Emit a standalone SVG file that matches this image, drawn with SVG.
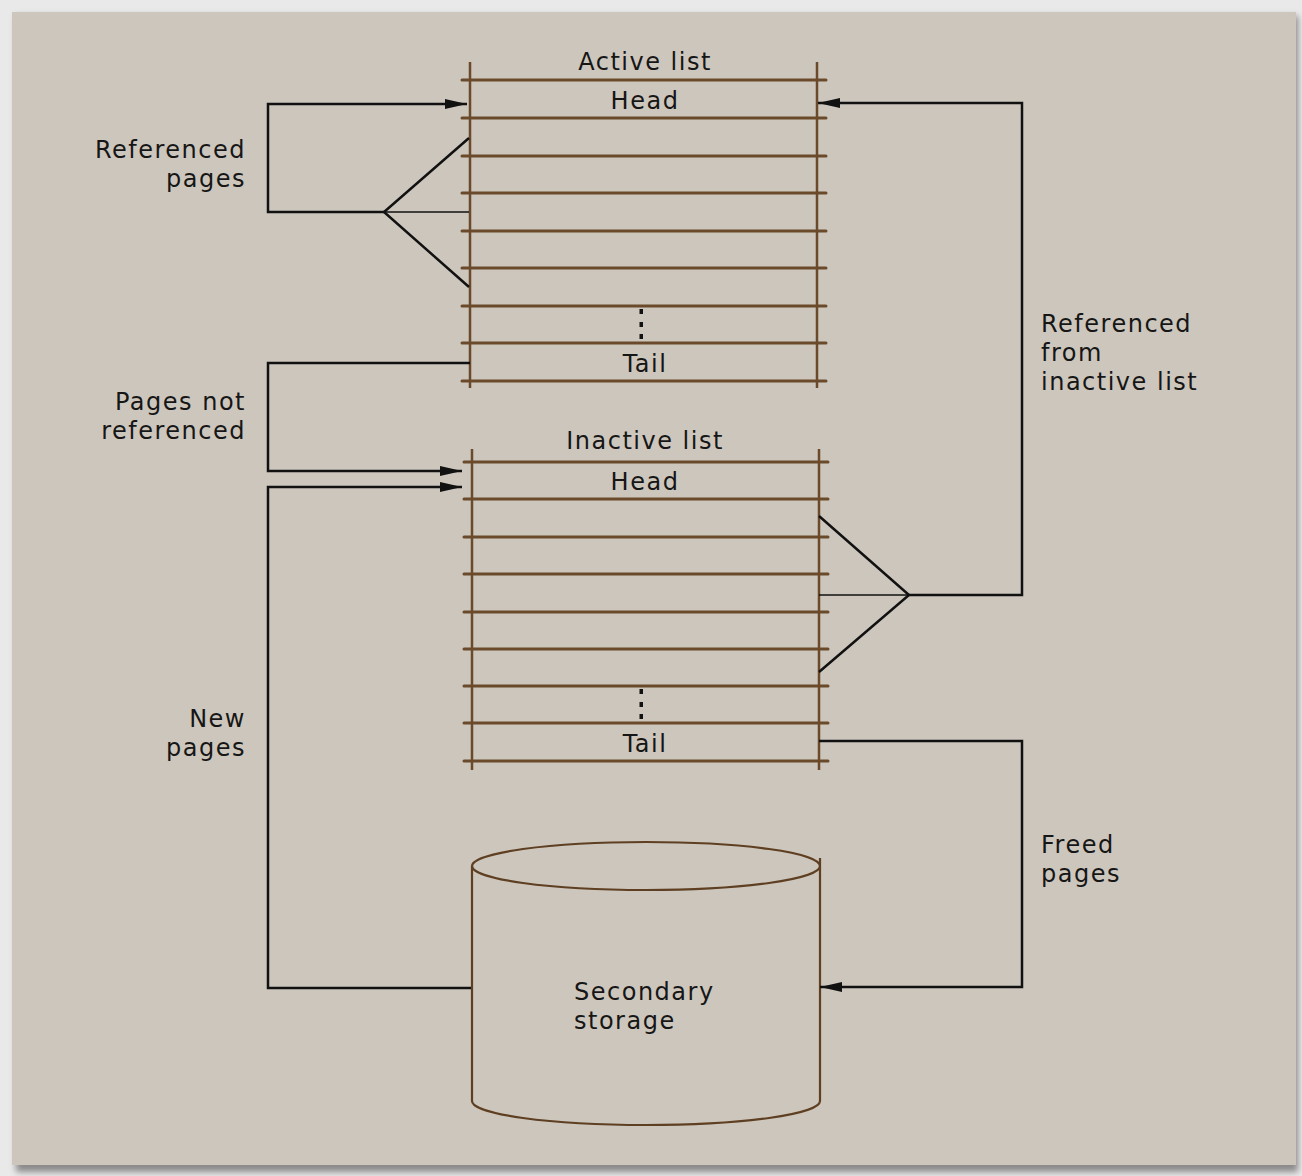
<svg xmlns="http://www.w3.org/2000/svg" width="1302" height="1176" viewBox="0 0 1302 1176">
<defs>
<style>
.t{font-family:"DejaVu Sans","Open Sans","Liberation Sans",sans-serif;font-size:24px;fill:#161616;letter-spacing:1.5px}
.m{text-anchor:middle}
.e{text-anchor:end}
.br{stroke:#6a4a2b;stroke-width:3;fill:none;stroke-linecap:round}
.bv{stroke:#6a4a2b;stroke-width:2.5;fill:none}
.cy{stroke:#5e3f22;stroke-width:2.2;fill:none}
.c{stroke:#111;stroke-width:2.5;fill:none}
.ct{stroke:#111;stroke-width:1.5;fill:none}
</style>
<marker id="ah" viewBox="0 0 22 12" refX="22" refY="6" markerWidth="22" markerHeight="12" markerUnits="userSpaceOnUse" orient="auto">
<path d="M0,1 L22,6 L0,11 Z" fill="#111"/>
</marker>
<filter id="sh" x="-5%" y="-5%" width="110%" height="110%">
<feGaussianBlur stdDeviation="3"/>
</filter>
</defs>
<rect x="0" y="0" width="1302" height="1176" fill="#e9e9e9"/>
<rect x="16" y="16" width="1282" height="1156" fill="#8a8a8a" filter="url(#sh)"/>
<rect x="12" y="12" width="1284" height="1153" fill="#cdc6bc"/>

<g id="active-list">
<line class="bv" x1="470" y1="62" x2="470" y2="388"/>
<line class="bv" x1="817" y1="62" x2="817" y2="388"/>
<line class="br" x1="462" y1="80" x2="826" y2="80"/>
<line class="br" x1="462" y1="118" x2="826" y2="118"/>
<line class="br" x1="462" y1="156" x2="826" y2="156"/>
<line class="br" x1="462" y1="193" x2="826" y2="193"/>
<line class="br" x1="462" y1="231" x2="826" y2="231"/>
<line class="br" x1="462" y1="268" x2="826" y2="268"/>
<line class="br" x1="462" y1="306" x2="826" y2="306"/>
<line class="br" x1="462" y1="343" x2="826" y2="343"/>
<line class="br" x1="462" y1="381" x2="826" y2="381"/>
<text class="t m" x="645" y="70">Active list</text>
<text class="t m" x="645" y="109">Head</text>
<text class="t m" x="645" y="372">Tail</text>
<rect x="639.5" y="309" width="3.5" height="5" fill="#111"/>
<rect x="639.5" y="322" width="3.5" height="5" fill="#111"/>
<rect x="639.5" y="334" width="3.5" height="5" fill="#111"/>
</g>

<g id="inactive-list">
<line class="bv" x1="472" y1="449" x2="472" y2="770"/>
<line class="bv" x1="819" y1="449" x2="819" y2="770"/>
<line class="br" x1="464" y1="462" x2="828" y2="462"/>
<line class="br" x1="464" y1="499" x2="828" y2="499"/>
<line class="br" x1="464" y1="537" x2="828" y2="537"/>
<line class="br" x1="464" y1="574" x2="828" y2="574"/>
<line class="br" x1="464" y1="612" x2="828" y2="612"/>
<line class="br" x1="464" y1="649" x2="828" y2="649"/>
<line class="br" x1="464" y1="686" x2="828" y2="686"/>
<line class="br" x1="464" y1="723" x2="828" y2="723"/>
<line class="br" x1="464" y1="761" x2="828" y2="761"/>
<text class="t m" x="645" y="449">Inactive list</text>
<text class="t m" x="645" y="490">Head</text>
<text class="t m" x="645" y="752">Tail</text>
<rect x="639.5" y="689" width="3.5" height="5" fill="#111"/>
<rect x="639.5" y="702" width="3.5" height="5" fill="#111"/>
<rect x="639.5" y="714" width="3.5" height="5" fill="#111"/>
</g>

<g id="secondary-storage">
<ellipse class="cy" cx="646" cy="866" rx="174" ry="24"/>
<line class="cy" x1="472" y1="866" x2="472" y2="1101"/>
<line class="cy" x1="820" y1="858" x2="820" y2="1101"/>
<path class="cy" d="M472,1101 A174,24 0 0 0 820,1101"/>
<text class="t" x="574" y="1000">Secondary<tspan x="574" dy="29">storage</tspan></text>
</g>

<g id="connectors">
<polyline class="c" points="469,138 384,212 469,287"/>
<line class="ct" x1="384" y1="212" x2="469" y2="212"/>
<polyline class="c" points="384,212 268,212 268,104 467,104" marker-end="url(#ah)"/>
<polyline class="c" points="819,516 909,595 819,672"/>
<line class="ct" x1="819" y1="595" x2="909" y2="595"/>
<polyline class="c" points="909,595 1022,595 1022,103 818,103" marker-end="url(#ah)"/>
<polyline class="c" points="470,363 268,363 268,471 462,471" marker-end="url(#ah)"/>
<polyline class="c" points="471,988 268,988 268,487 462,487" marker-end="url(#ah)"/>
<polyline class="c" points="819,741 1022,741 1022,987 820,987" marker-end="url(#ah)"/>
</g>

<g id="labels">
<text class="t e" x="246" y="158">Referenced<tspan x="246" dy="29">pages</tspan></text>
<text class="t e" x="246" y="410">Pages not<tspan x="246" dy="29">referenced</tspan></text>
<text class="t e" x="246" y="727">New<tspan x="246" dy="29">pages</tspan></text>
<text class="t" x="1041" y="332">Referenced<tspan x="1041" dy="29">from</tspan><tspan x="1041" dy="29">inactive list</tspan></text>
<text class="t" x="1041" y="853">Freed<tspan x="1041" dy="29">pages</tspan></text>
</g>
</svg>
